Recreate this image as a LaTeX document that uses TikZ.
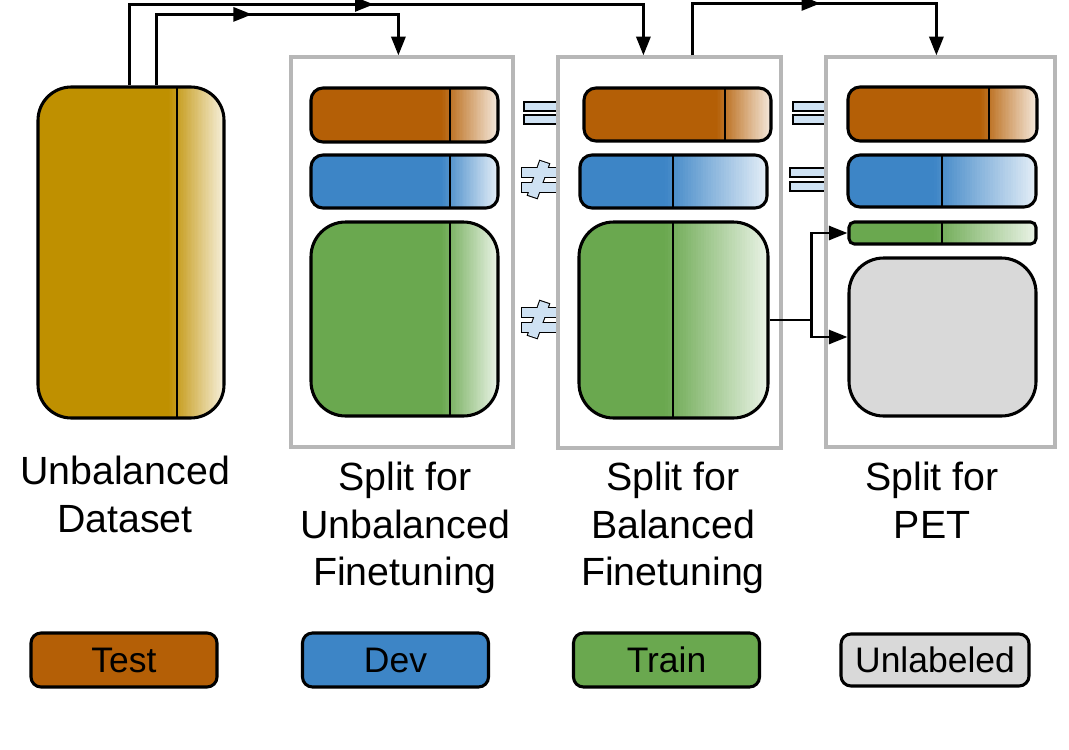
\documentclass[tikz,border=0pt]{standalone}
\usepackage{fontspec}
\setmainfont{Liberation Sans}
\usetikzlibrary{arrows.meta,calc,decorations.markings}
\definecolor{dsgold}{HTML}{BF9000}
\definecolor{testc}{HTML}{B45F06}
\definecolor{devc}{HTML}{3D85C6}
\definecolor{trainc}{HTML}{6AA84F}
\definecolor{unlc}{HTML}{D9D9D9}
\definecolor{boxgray}{HTML}{B7B7B7}
\definecolor{eqc}{HTML}{CFE2F3}
\newcommand\neqsign{%
  \draw[line width=1.6pt] (522,168) rectangle (558,177);
  \draw[line width=1.6pt] (522,183) rectangle (558,192);
  \draw[line width=1.6pt] (540,161) -- (549,164) -- (537,198) -- (528,195) -- cycle;
  \fill[eqc] (522,168) rectangle (558,177);
  \fill[eqc] (522,183) rectangle (558,192);
  \fill[eqc] (540,161) -- (549,164) -- (537,198) -- (528,195) -- cycle;}
\begin{document}
\begin{tikzpicture}[x=0.75pt,y=-0.75pt,
  sz/.style 2 args={minimum width=#1*0.75pt, minimum height=#2*0.75pt},
  part/.style n args={3}{draw=black, line width=2.3pt, rounded corners=#3, fill=#1, inner sep=0pt,
    path picture={
      \coordinate (gA) at ([xshift=#2*0.75pt-6pt]path picture bounding box.south west);
      \coordinate (gB) at (path picture bounding box.south east);
      \foreach \i in {0,...,39}{
        \pgfmathsetmacro\pc{100-86*(\i+0.5)/40}
        \path ($(gA)!{(\i+1.3)/40}!(gB)$) coordinate (gC);
        \fill[sharp corners, #1!\pc!white] ($(gA)!{\i/40}!(gB)$) rectangle (gC |- path picture bounding box.north);
      }
      \draw[sharp corners, line width=2.1pt]
        ([xshift=#2*0.75pt]path picture bounding box.south west) -- ([xshift=#2*0.75pt]path picture bounding box.north west);
    }},
  grp/.style={draw=boxgray, line width=2.4pt, inner sep=0pt},
  eqs/.style={fill=eqc, draw=black, line width=0.8pt},
  conn/.style={draw=black, line width=2.2pt},
  tip/.style={-{Triangle[length=14pt,width=10.5pt]}},
  midarrow/.style={postaction={decorate}, decoration={markings, mark=at position #1 with {\arrow{Triangle[length=14pt,width=10.5pt]}}}},
  lbl/.style={font=\fontsize{29.5}{35.6}\selectfont, align=center, inner sep=0pt},
  leg/.style={draw=black, line width=2.3pt, rounded corners=7.5pt, inner sep=0pt, font=\fontsize{26.6}{32}\selectfont}
]
\useasboundingbox (0,0) rectangle (1069,749);

% equality / inequality signs
\draw[eqs] (524,102) rectangle (558,111) (524,115) rectangle (558,124);
\neqsign
\begin{scope}[shift={(0,140)}]
  \neqsign
\end{scope}
\draw[eqs] (793,102) rectangle (826,111) (793,115) rectangle (826,124);
\draw[eqs] (790,168) rectangle (826,177) (790,182) rectangle (826,191);

% dataset
\node[part={dsgold}{139}{25pt}, sz={186}{331}] (ds) at (131,252.5) {};

% group boxes
\node[grp, sz={222}{390}] (ub) at (402,252) {};
\node[grp, sz={223}{391}] (bb) at (669.5,252.5) {};
\node[grp, sz={229}{390}] (pb) at (940.5,252) {};

% unbalanced split
\node[part={testc}{139}{9pt}, sz={187}{54}] (ut) at (404.5,115) {};
\node[part={devc}{139}{9pt}, sz={187}{53}] (ud) at (404.5,181.5) {};
\node[part={trainc}{139}{26pt}, sz={187}{194}] (utr) at (404.5,319) {};

% balanced split
\node[part={testc}{141}{9pt}, sz={187}{53}] (bt) at (677.5,114.5) {};
\node[part={devc}{93}{9pt}, sz={187}{53}] (bd) at (673.5,181.5) {};
\node[part={trainc}{94}{26pt}, sz={189}{196}] (btr) at (673.5,320) {};

% PET split
\node[part={testc}{141}{9pt}, sz={189}{54}] (pt) at (942.5,114) {};
\node[part={devc}{94}{9pt}, sz={188}{52}] (pd) at (942,181) {};
\node[part={trainc}{93}{4pt}, sz={187}{22}] (ptr) at (942.5,233) {};
\node[draw=black, line width=2.3pt, fill=unlc, rounded corners=26pt, inner sep=0pt, sz={187}{158}] (pu) at (942.5,337) {};

% top connectors
\draw[conn, tip, midarrow=244pt] ($(ds.north west)+(93,0)$) |- ($(bb.north west)+(87,-51)$) -- ($(bb.north west)+(87,0)$);
\draw[conn, tip, midarrow=125pt] ($(ds.north west)+(120,0)$) |- ($(ub.north west)+(109,-41)$) -- ($(ub.north west)+(109,0)$);
\draw[conn, tip, midarrow=135pt] ($(bb.north west)+(136,0)$) |- ($(pb.north west)+(112,-52)$) -- ($(pb.north west)+(112,0)$);

% train to PET
\draw[conn] (btr.east) -- ++(42,0) coordinate (jn);
\draw[conn, tip] (jn) |- (ptr.west);
\draw[conn, tip] (jn) |- (pu.west);

% captions
\node[lbl, anchor=north] (c1) at (125,456) {Unbalanced\\Dataset};
\node[lbl, anchor=north] (c2) at (405,462) {Split for\\Unbalanced\\Finetuning};
\node[lbl, anchor=north] (c3) at (673,462) {Split for\\Balanced\\Finetuning};
\node[lbl, anchor=north] (c4) at (932,462) {Split for\\PET};

% legend
\node[leg, fill=testc, sz={186}{54}] (lt) at (124,660) {Test};
\node[leg, fill=devc, sz={186}{54}] (ld) at (395.5,660) {Dev};
\node[leg, fill=trainc, sz={186}{54}] (ltr) at (666.5,660) {Train};
\node[leg, fill=unlc, sz={188}{52}] (lu) at (935,660) {Unlabeled};
\end{tikzpicture}
\end{document}
